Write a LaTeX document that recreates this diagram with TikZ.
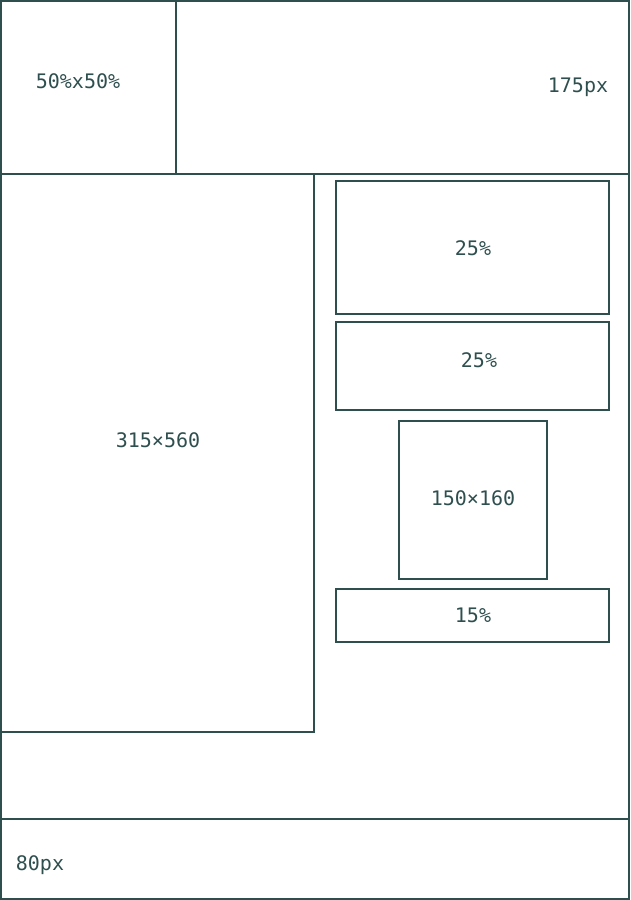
\documentclass[tikz,border=0pt]{standalone}
\usepackage{fontspec}
\setmonofont{DejaVu Sans Mono}
\definecolor{ink}{HTML}{2F4F4F}
\begin{document}
\begin{tikzpicture}[x=1pt,y=-1pt,
  frame/.style={draw=ink,line width=2pt},
  lbl/.style={text=ink,font=\ttfamily\fontsize{20}{24}\selectfont,inner sep=0pt,anchor=center}]
\useasboundingbox (0,0) rectangle (630,900);
% outer frame
\draw[frame] (1,1) rectangle (629,899);
% top row
\draw[frame] (1,174) -- (629,174);
\draw[frame] (176,1) -- (176,174);
% big left box
\draw[frame] (1,174) rectangle (314,732);
% right boxes
\draw[frame] (336,181) rectangle (609,314);
\draw[frame] (336,322) rectangle (609,410);
\draw[frame] (399,421) rectangle (547,579);
\draw[frame] (336,589) rectangle (609,642);
% footer
\draw[frame] (1,819) -- (629,819);
% labels
\node[lbl] (a) at (78,81) {50\%x50\%};
\node[lbl] (b) at (578,87) {175px};
\node[lbl] (c) at (473,248) {25\%};
\node[lbl] (d) at (479,360) {25\%};
\node[lbl] (e) at (158,440) {315×560};
\node[lbl] (f) at (473,498) {150×160};
\node[lbl] (g) at (473,615) {15\%};
\node[lbl] (h) at (40,865) {80px};
\end{tikzpicture}
\end{document}
